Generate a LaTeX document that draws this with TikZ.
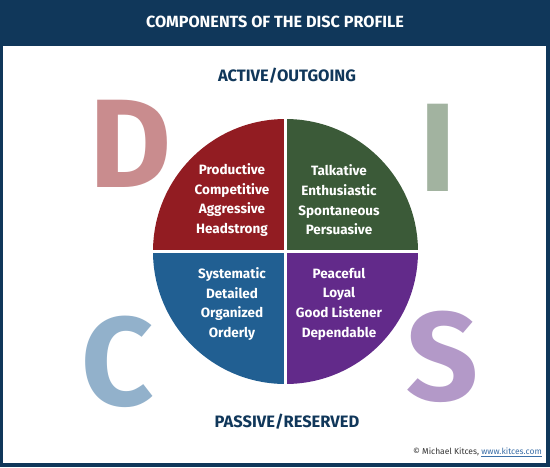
\documentclass[tikz,border=0pt]{standalone}
\usepackage{fontspec}
\setmainfont{Fira Sans}
\usetikzlibrary{calc}
\definecolor{navy}{HTML}{10375A}
\definecolor{dred}{HTML}{921C22}
\definecolor{igreen}{HTML}{3B5A38}
\definecolor{cblue}{HTML}{215F92}
\definecolor{spurple}{HTML}{622A8A}
\definecolor{dlight}{HTML}{C98C8E}
\definecolor{ilight}{HTML}{A2B3A0}
\definecolor{clight}{HTML}{92B1CB}
\definecolor{slight}{HTML}{B399C8}
\definecolor{linkblue}{HTML}{3A6FA8}
\def\quarter[#1](#2)(#3:#4:#5){\fill[#1] (#2) -- ($(#2)+({#5*cos(#3)},{#5*sin(#3)})$) arc (#3:#4:#5) -- cycle;}
\tikzset{
  traits/.style={text=white, align=center, font=\bfseries\fontsize{13.5}{19.6}\selectfont},
  axis/.style={text=navy, font=\bfseries\fontsize{16.5}{18}\selectfont},
  bigletter/.style={font=\bfseries\fontsize{126}{126}\selectfont, inner sep=0pt}
}

\begin{document}
\begin{tikzpicture}[x=1pt, y=-1pt]
			%%%%% START %%%%%
			
			\useasboundingbox (0, 0) rectangle (550, 467);
			\fill[navy] (0, 0) rectangle (550, 467);
			\fill[white] (3, 46) rectangle (546, 463);
			
			\node[text=white, font=\bfseries\fontsize{16.2}{18}\selectfont] (title) at (275, 22) {COMPONENTS OF THE DISC PROFILE};
			
			\coordinate (mid) at (285.5, 251.5);
			\quarter[dred](mid)(180:270:132.5);
			\quarter[igreen](mid)(270:360:132.5);
			\quarter[cblue](mid)(90:180:132.5);
			\quarter[spurple](mid)(0:90:132.5);
			\draw[white, line width=3pt] ($(mid)+(0, -134)$) -- ($(mid)+(0, 134)$);
			\draw[white, line width=3pt] ($(mid)+(-134, 0)$) -- ($(mid)+(134, 0)$);
			
			\node[traits] (dtraits) at (232, 200) {Productive\\Competitive\\Aggressive\\Headstrong};
			\node[traits] (itraits) at (339, 200) {Talkative\\Enthusiastic\\Spontaneous\\Persuasive};
			\node[traits] (ctraits) at (232, 304) {Systematic\\Detailed\\Organized\\Orderly};
			\node[traits] (straits) at (339, 304) {Peaceful\\Loyal\\Good Listener\\Dependable};
			
			\node[axis] (active) at (287, 76) {ACTIVE/OUTGOING};
			\node[axis] (passive) at (287, 422) {PASSIVE/RESERVED};
			
			\node[bigletter, text=dlight] (letterd) at (130.5, 143.5) {D};
			\node[bigletter, text=ilight] (letteri) at (438, 147.5) {I};
			\node[bigletter, text=clight] (letterc) at (118, 362) {C};
			\node[bigletter, text=slight] (letters) at (442.5, 356.5) {S};
			
			\node[anchor=east, text=black!80, font=\fontsize{8.5}{10}\selectfont, inner sep=0pt] (credit) at (542, 452) {\textcopyright{} Michael Kitces, \textcolor{linkblue}{\underline{www.kitces.com}}};
			
			%%%%% END %%%%%
		\end{tikzpicture}
\end{document}
